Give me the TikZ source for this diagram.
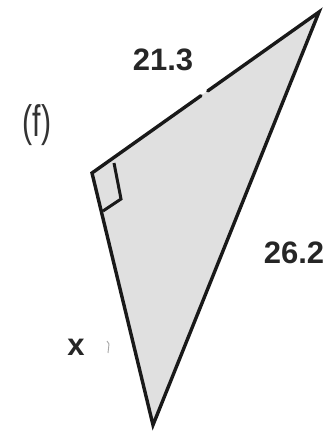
\documentclass[tikz,border=0pt]{standalone}
\usepackage{fontspec}
\setmainfont{Liberation Sans}
\usetikzlibrary{calc}
\begin{document}
\begin{tikzpicture}[x=1pt,y=-1pt,
  edge/.style={line width=3.4pt, line join=miter, line cap=round, draw=black!90},
  lbl/.style={font=\fontsize{31}{36}\selectfont\bfseries, text=black!85, inner sep=0pt},
  tag/.style={font=\fontsize{42}{48}\selectfont, text=black!80, inner sep=0pt}]
\useasboundingbox (0,0) rectangle (332,431);
\coordinate (A) at (92,173);
\coordinate (B) at (319,12);
\coordinate (C) at (153,425);
\fill[black!12] (A) -- (B) -- (C) -- cycle;
\coordinate (G1) at ($(A)!0.48!(B)$);
\coordinate (G2) at ($(A)!0.51!(B)$);
\draw[edge] (G2) -- (B) -- (C) -- (A) -- (G1);
% right-angle mark
\coordinate (R1) at (114,163);
\coordinate (R2) at (121,199);
\coordinate (R3) at (103,211);
\draw[line width=3pt, draw=black!90, line join=miter] (R1) -- (R2) -- (R3);
% labels
\node[lbl] (l1) at (163,60) {21.3};
\node[lbl] (l2) at (294,253) {26.2};
\node[lbl] (lx) at (76,347) {x};
\node[tag] (lf) at (37,125) {\scalebox{0.72}[1.05]{(f)}};
% faint stray mark
\draw[black!35, line width=0.9pt] (107,341) -- (109,344) -- (108,353);
\end{tikzpicture}
\end{document}
